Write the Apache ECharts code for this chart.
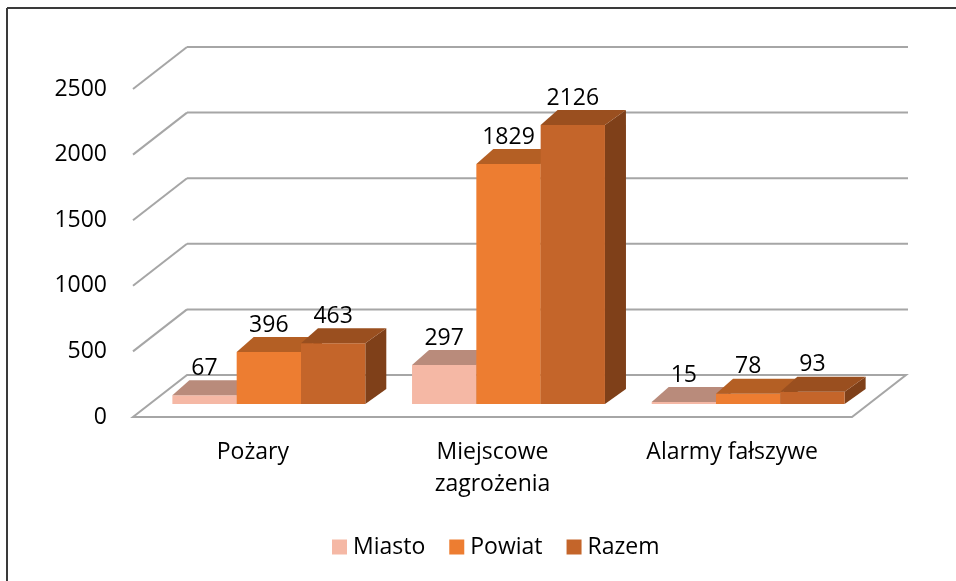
<!DOCTYPE html>
<html>
<head>
<meta charset="utf-8">
<script src="https://cdn.jsdelivr.net/npm/echarts@6/dist/echarts.min.js"></script>
<style>
html,body{margin:0;padding:0;background:#fff;}
#chart{width:956px;height:581px;}
</style>
</head>
<body>
<div id="chart"></div>
<script>
const categories = ['Pożary', 'Miejscowe\nzagrożenia', 'Alarmy fałszywe'];
const seriesNames = ['Miasto', 'Powiat', 'Razem'];
const miasto = [67, 297, 15];
const powiat = [396, 1829, 78];
const razem = [463, 2126, 93];
const yTicks = [0, 500, 1000, 1500, 2000, 2500];

const FONT = '"Open Sans", "Noto Sans", sans-serif';
const FS = 23;
const faces = [
  { front: '#F5B8A5', top: '#B98B7B', side: '#9A6F60' },
  { front: '#ED7D31', top: '#B45F24', side: '#8E4A1B' },
  { front: '#C4652A', top: '#9A4F1F', side: '#7F4019' }
];
// perspective offsets
const WALL_DX = 54, WALL_DY = -42;      // floor/back wall depth
const BAR_SX = 16, BAR_SY = -13;        // bar front plane offset from front plane
const BAR_DXL = 17, BAR_DXR = 21, BAR_DY = -15; // bar depth

function gridRender(params, api) {
  const v = api.value(1);
  const y = api.coord([0, v])[1];
  const x0 = params.coordSys.x;
  const x1 = x0 + params.coordSys.width;
  const stroke = { stroke: '#A6A6A6', lineWidth: 2, fill: null };
  const children = [];
  if (v === 0) {
    children.push({
      type: 'polygon',
      shape: { points: [[x0, y], [x1, y], [x1 + WALL_DX, y + WALL_DY], [x0 + WALL_DX, y + WALL_DY]] },
      style: { stroke: '#A6A6A6', lineWidth: 2, fill: '#fff' }
    });
  } else {
    children.push({ type: 'line', shape: { x1: x0, y1: y, x2: x0 + WALL_DX, y2: y + WALL_DY }, style: stroke });
    children.push({ type: 'line', shape: { x1: x0 + WALL_DX, y1: y + WALL_DY, x2: x1 + WALL_DX + 2, y2: y + WALL_DY }, style: stroke });
  }
  return { type: 'group', children };
}

function makeBarRender(k) {
  return function (params, api) {
    const i = api.value(0);
    const v = api.value(1);
    const base = api.coord([i, 0]);
    const topP = api.coord([i, v]);
    const band = api.size([1, 0])[0];
    const group = band * 0.805;
    const bw = group / 3;
    const xl = base[0] - group / 2 + k * bw + BAR_SX;
    const xr = xl + bw;
    const yb = base[1] + BAR_SY;
    const yt = topP[1] + BAR_SY;
    const f = faces[k];
    return {
      type: 'group',
      children: [
        { type: 'polygon', shape: { points: [[xr, yb], [xr + BAR_DXR, yb + BAR_DY], [xr + BAR_DXR, yt + BAR_DY], [xr, yt]] }, style: { fill: f.side } },
        { type: 'rect', shape: { x: xl, y: yt, width: bw, height: yb - yt }, style: { fill: f.front } },
        { type: 'polygon', shape: { points: [[xl, yt], [xr, yt], [xr + BAR_DXR, yt + BAR_DY], [xl + BAR_DXL, yt + BAR_DY]] }, style: { fill: f.top } },
        { type: 'text', z2: 100, style: { text: String(v), x: (xl + xr) / 2, y: yt - 27, align: 'center', verticalAlign: 'middle', fontSize: FS, fontFamily: FONT, fill: '#000' } }
      ]
    };
  };
}

const seriesData = [miasto, powiat, razem];

const option = {
  animation: false,
  backgroundColor: '#fff',
  textStyle: { fontFamily: FONT },
  grid: { left: 133, right: 104, top: 89, bottom: 164, containLabel: false },
  xAxis: {
    type: 'category',
    data: categories,
    axisLine: { show: false },
    axisTick: { show: false },
    splitLine: { show: false },
    axisLabel: { color: '#000', fontSize: FS, fontFamily: FONT, margin: 19, lineHeight: 32, interval: 0 }
  },
  yAxis: {
    type: 'value',
    min: 0, max: 2500, interval: 500,
    axisLine: { show: false },
    axisTick: { show: false },
    splitLine: { show: false },
    axisLabel: { color: '#000', fontSize: FS, fontFamily: FONT, margin: 26, formatter: v => String(v) }
  },
  legend: {
    data: seriesNames,
    left: 327, top: 530,
    icon: 'rect', itemWidth: 15, itemHeight: 15, itemGap: 24,
    textStyle: { color: '#000', fontSize: FS, fontFamily: FONT, lineHeight: 24, padding: [0, 0, 0, 1] }
  },
  graphic: [
    { type: 'line', shape: { x1: 7, y1: 8, x2: 956, y2: 8 }, style: { stroke: '#3a3a3a', lineWidth: 2 } },
    { type: 'line', shape: { x1: 7, y1: 8, x2: 7, y2: 581 }, style: { stroke: '#3a3a3a', lineWidth: 2 } }
  ],
  series: [
    {
      type: 'custom', name: '_grid', silent: true, z: 1,
      renderItem: gridRender,
      encode: { x: 0, y: 1 },
      data: yTicks.map(t => [0, t])
    }
  ].concat(seriesNames.map((name, k) => ({
    type: 'custom', name, z: 2 + k,
    itemStyle: { color: faces[k].front },
    renderItem: makeBarRender(k),
    encode: { x: 0, y: 1 },
    data: seriesData[k].map((v, i) => [i, v])
  })))
};

const chart = echarts.init(document.getElementById('chart'), null, { renderer: 'canvas' });
chart.setOption(option);
</script>
</body>
</html>
